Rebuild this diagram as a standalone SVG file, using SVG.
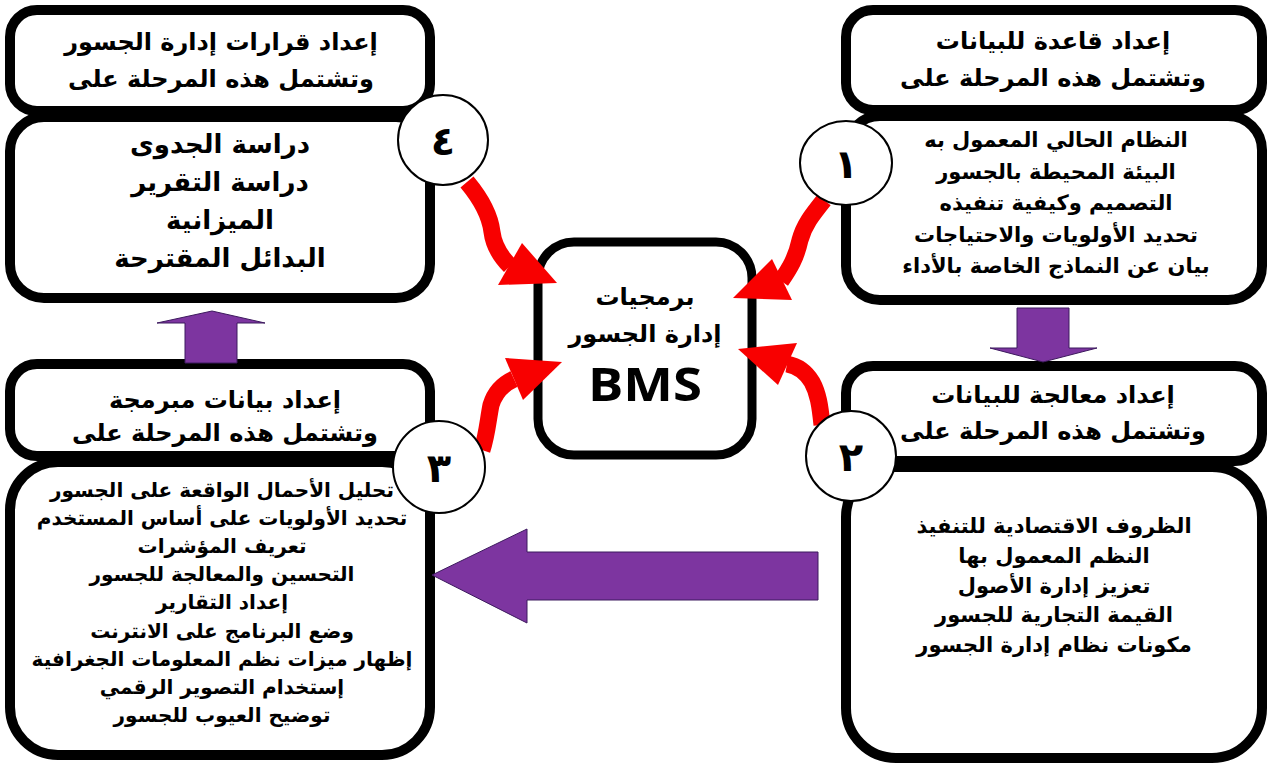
<svg xmlns="http://www.w3.org/2000/svg" width="1271" height="770" viewBox="0 0 1271 770">
  <style>
    .box { fill: #fff; stroke: #000; stroke-width: 10; }
    .core { fill: #fff; stroke: #000; stroke-width: 9; }
    .badge { fill: #fff; stroke: #000; stroke-width: 2; }
    .ar { font-family: "DejaVu Sans", sans-serif; font-weight: bold; text-anchor: middle; fill: #000; direction: rtl; }
    .hd { font-size: 24px; }
    .bd { font-size: 21px; }
    .big { font-size: 26px; }
    .sm { font-size: 20px; }
    .num { font-size: 40px; }
    .latin { font-family: "Open Sans", "DejaVu Sans", sans-serif; font-weight: bold; text-anchor: middle; fill: #000; font-size: 46px; }
    .flow { fill: none; stroke: #f80000; stroke-width: 17; }
    .head { fill: #f80000; }
    .move { fill: #7d35a0; stroke: #3d1a5e; stroke-width: 1; }
  </style>

  <rect width="1271" height="770" fill="#fff"/>

  <!-- stage 4: top left -->
  <g id="stage4">
    <rect class="box" x="10" y="117" width="420" height="181" rx="34"/>
    <rect class="box" x="10" y="10" width="420" height="101" rx="27"/>
    <text class="ar hd" x="221" y="50">إعداد قرارات إدارة الجسور</text>
    <text class="ar hd" x="221" y="87">وتشتمل هذه المرحلة على</text>
    <text class="ar big" x="220" y="153">دراسة الجدوى</text>
    <text class="ar big" x="220" y="191">دراسة التقرير</text>
    <text class="ar big" x="220" y="229">الميزانية</text>
    <text class="ar big" x="220" y="267">البدائل المقترحة</text>
  </g>

  <!-- stage 1: top right -->
  <g id="stage1">
    <rect class="box" x="846" y="116" width="416" height="184" rx="34"/>
    <rect class="box" x="846" y="10" width="416" height="100" rx="27"/>
    <text class="ar hd" x="1053" y="49">إعداد قاعدة للبيانات</text>
    <text class="ar hd" x="1053" y="86">وتشتمل هذه المرحلة على</text>
    <text class="ar bd" x="1056" y="147">النظام الحالي المعمول به</text>
    <text class="ar bd" x="1056" y="179">البيئة المحيطة بالجسور</text>
    <text class="ar bd" x="1056" y="210">التصميم وكيفية تنفيذه</text>
    <text class="ar bd" x="1056" y="242">تحديد الأولويات والاحتياجات</text>
    <text class="ar bd" x="1056" y="273">بيان عن النماذج الخاصة بالأداء</text>
  </g>

  <!-- stage 3: bottom left -->
  <g id="stage3">
    <rect class="box" x="10" y="462" width="420" height="293" rx="48"/>
    <rect class="box" x="10" y="364" width="420" height="92" rx="27"/>
    <text class="ar hd" x="225" y="408">إعداد بيانات مبرمجة</text>
    <text class="ar hd" x="225" y="441">وتشتمل هذه المرحلة على</text>
    <text class="ar sm" x="222" y="497">تحليل الأحمال الواقعة على الجسور</text>
    <text class="ar sm" x="222" y="525">تحديد الأولويات على أساس المستخدم</text>
    <text class="ar sm" x="222" y="553">تعريف المؤشرات</text>
    <text class="ar sm" x="222" y="581">التحسين والمعالجة للجسور</text>
    <text class="ar sm" x="222" y="609">إعداد التقارير</text>
    <text class="ar sm" x="222" y="638">وضع البرنامج على الانترنت</text>
    <text class="ar sm" x="222" y="666">إظهار ميزات نظم المعلومات الجغرافية</text>
    <text class="ar sm" x="222" y="694">إستخدام التصوير الرقمي</text>
    <text class="ar sm" x="222" y="722">توضيح العيوب للجسور</text>
  </g>

  <!-- stage 2: bottom right -->
  <g id="stage2">
    <rect class="box" x="846" y="467" width="416" height="291" rx="50"/>
    <rect class="box" x="846" y="366" width="416" height="95" rx="27"/>
    <text class="ar hd" x="1053" y="403">إعداد معالجة للبيانات</text>
    <text class="ar hd" x="1053" y="439">وتشتمل هذه المرحلة على</text>
    <text class="ar bd" x="1054" y="533">الظروف الاقتصادية للتنفيذ</text>
    <text class="ar bd" x="1054" y="563">النظم المعمول بها</text>
    <text class="ar bd" x="1054" y="593">تعزيز إدارة الأصول</text>
    <text class="ar bd" x="1054" y="622">القيمة التجارية للجسور</text>
    <text class="ar bd" x="1054" y="652">مكونات نظام إدارة الجسور</text>
  </g>

  <!-- central software block -->
  <g id="bms">
    <rect class="core" x="538" y="242" width="214" height="213" rx="36"/>
    <text class="ar hd" x="645" y="305">برمجيات</text>
    <text class="ar hd" x="645" y="342">إدارة الجسور</text>
    <text class="latin" x="645" y="401" textLength="114" lengthAdjust="spacingAndGlyphs">BMS</text>
  </g>

  <!-- connectors -->
  <g id="connectors">
    <!-- purple flow between stages -->
    <polygon class="move" points="1017,308 1069,308 1069,348 1097,348 1043,362 990,348 1017,348"/>
    <polygon class="move" points="818,552 818,600 527,600 527,623 432,575 527,529 527,552"/>
    <polygon class="move" points="185,363 237,363 237,323 265,323 212,311 157,323 185,323"/>
    <!-- red feeds into the central block -->
    <path class="flow" d="M467,182 C482,200 490,215 492,232 C494,248 502,258 510,266"/>
    <polygon class="head" points="522,243 498,285 557,283"/>
    <path class="flow" d="M824,200 C812,215 804,225 800,240 C796,258 790,268 781,281"/>
    <polygon class="head" points="772,259 733,298 792,300"/>
    <path class="flow" d="M482,450 C487,435 488,420 491,405 C495,392 503,384 514,379"/>
    <polygon class="head" points="505,358 562,362 523,400"/>
    <path class="flow" d="M822,425 C820,405 818,393 812,382 C806,372 798,366 787,364"/>
    <polygon class="head" points="738,349 797,343 778,385"/>
  </g>

  <!-- numbered badges -->
  <g id="badge1">
    <ellipse class="badge" cx="846" cy="163" rx="46" ry="42"/>
    <text class="ar num" x="846" y="178">١</text>
  </g>
  <g id="badge2">
    <circle class="badge" cx="851" cy="456" r="45"/>
    <text class="ar num" x="851" y="471">٢</text>
  </g>
  <g id="badge3">
    <circle class="badge" cx="439" cy="467" r="46"/>
    <text class="ar num" x="439" y="482">٣</text>
  </g>
  <g id="badge4">
    <circle class="badge" cx="443" cy="140" r="45"/>
    <text class="ar num" x="443" y="155">٤</text>
  </g>
</svg>
